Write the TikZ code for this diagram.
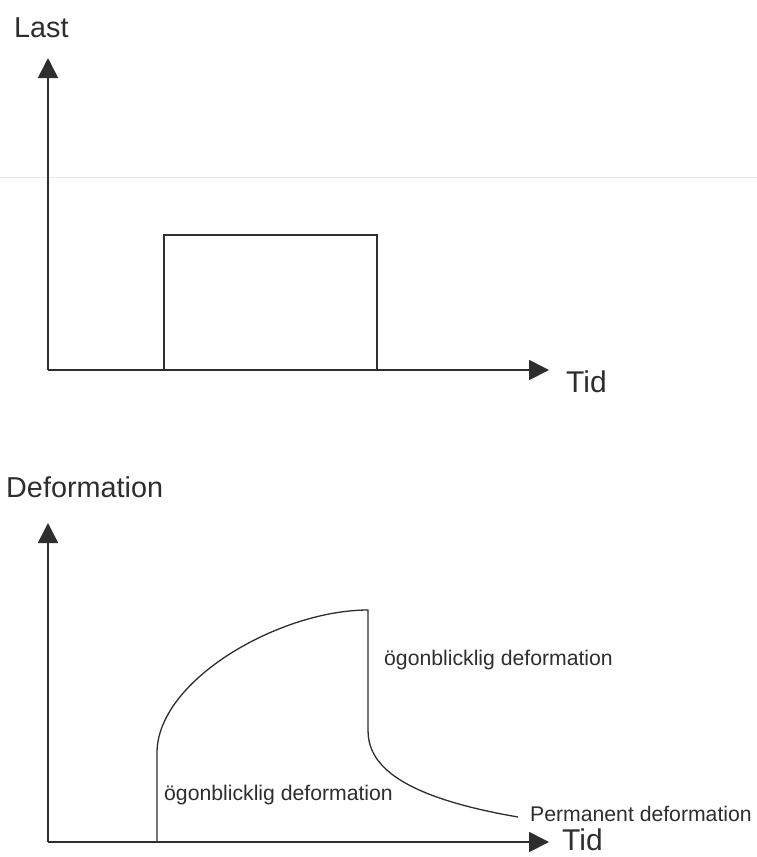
\documentclass[tikz,border=0pt]{standalone}
\usepackage{fontspec}
\setmainfont{Liberation Sans}
\usetikzlibrary{arrows.meta}
\definecolor{ink}{HTML}{2E2E2E}
\tikzset{
  axis/.style={draw=ink, line width=1.8pt, -{Triangle[length=20pt,width=20pt]}},
  trace/.style={draw=ink, line width=1.6pt},
  curve/.style={draw=ink, line width=1.3pt},
  lbl/.style={inner sep=0pt, anchor=base west, text=ink},
  big/.style={lbl, font=\fontsize{28.8}{34}\selectfont},
  tid/.style={lbl, font=\fontsize{30}{36}\selectfont},
  small/.style={lbl, font=\fontsize{21.2}{25}\selectfont},
}
\begin{document}
\begin{tikzpicture}[x=1pt,y=-1pt]
\useasboundingbox (0,0) rectangle (757,857);
\fill[white] (0,0) rectangle (757,857);
% faint scanner line across the sheet
\draw[black!9, line width=1pt] (0,177) -- (757,177);

% ---- load diagram ----
\coordinate (o1) at (48,370);
\coordinate (y1) at (48,58);
\coordinate (x1) at (549,370);
\draw[axis] (o1) -- (y1);
\draw[axis] (o1) -- (x1);
\node[big] (last) at (14,37) {Last};
\node[tid] (tid1) at (566,392) {Tid};
% load pulse
\coordinate (p1) at (164,370);
\coordinate (p2) at (164,235);
\coordinate (p3) at (377,235);
\coordinate (p4) at (377,370);
\draw[trace] (p1) -- (p2) -- (p3) -- (p4);

% ---- deformation diagram ----
\coordinate (o2) at (48,842);
\coordinate (y2) at (48,523);
\coordinate (x2) at (549,842);
\draw[axis] (o2) -- (y2);
\draw[axis] (o2) -- (x2);
\node[big] (def) at (6,497) {Deformation};
\node[tid] (tid2) at (562,850) {Tid};
% deformation response
\coordinate (d0) at (157,842);
\coordinate (d1) at (157,753);
\coordinate (d2) at (368,610);
\coordinate (d3) at (368,730);
\coordinate (d4) at (518,817);
\draw[curve] (d0) -- (d1)
  .. controls (157,680) and (280,610) .. (d2)
  -- (d3)
  .. controls (368,760) and (390,795) .. (d4);
\node[small] (elast1) at (384,665) {ögonblicklig deformation};
\node[small] (elast2) at (164,800) {ögonblicklig deformation};
\node[small] (perm) at (530,821) {Permanent deformation};
\end{tikzpicture}
\end{document}
